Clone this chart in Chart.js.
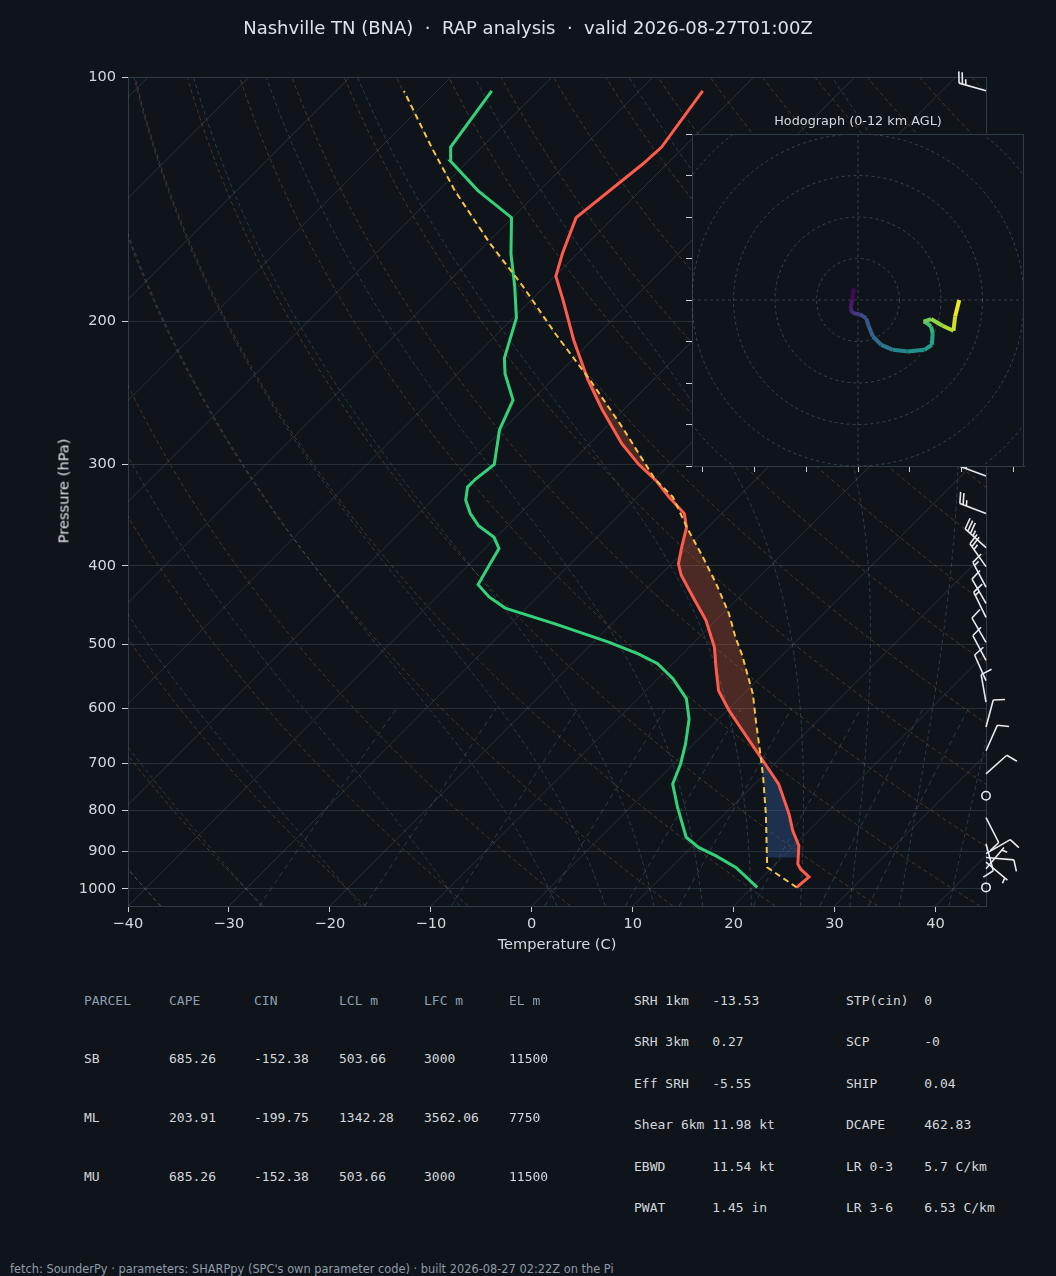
<!DOCTYPE html>
<html>
<head>
<meta charset="utf-8">
<script src="https://cdn.jsdelivr.net/npm/chart.js@4.4.1/dist/chart.umd.min.js"></script>
<style>
  html, body { margin: 0; padding: 0; background: #0f141a; }
  #page { position: relative; width: 1056px; height: 1276px; overflow: hidden; background: #0f141a; font-family: 'DejaVu Sans', sans-serif; }
  #skewt { position: absolute; left: 0; top: 0; }
  #hodo { position: absolute; left: 660px; top: 100px; }
  .lbl { position: absolute; white-space: pre; line-height: normal; }
  .mono { font-family: 'DejaVu Sans Mono', monospace; font-size: 13px; }
</style>
</head>
<body>
<div id="page">
  <canvas id="skewt" width="1056" height="960"></canvas>
  <canvas id="hodo" width="380" height="380"></canvas>
</div>
<script>
// sounding (hPa / degC)
const tempP = [996, 967, 946, 932, 885, 848, 809, 743, 689, 657, 603, 570, 533, 504, 467, 437, 411, 398, 380, 359, 345, 329, 314, 300, 283, 257, 236, 211, 188, 176, 165, 149, 128, 122, 104]
const tempC = [24.4, 24.6, 23.0, 22.2, 20.5, 18.4, 16.4, 12.4, 8.0, 5.2, 0.2, -2.8, -5.4, -7.5, -11.0, -14.6, -17.9, -19.3, -20.6, -22.1, -23.7, -26.9, -29.8, -33.1, -36.8, -42.1, -46.5, -51.8, -56.9, -59.9, -61.5, -63.7, -62.4, -62.2, -63.7]

const dwptP = [996, 941, 911, 890, 864, 794, 743, 702, 663, 618, 583, 551, 528, 514, 497, 472, 451, 437, 422, 400, 381, 369, 357, 345, 332, 320, 313, 300, 272, 250, 232, 222, 198, 181, 165, 149, 138, 127, 122, 104]
const dwptC = [20.5, 16.4, 13.3, 10.8, 8.5, 4.7, 1.9, 0.7, -0.8, -2.9, -5.2, -8.5, -11.5, -14.3, -18.4, -25.5, -32.1, -34.8, -37.1, -37.9, -38.6, -40.2, -42.9, -44.9, -46.7, -47.8, -47.8, -47.4, -50.3, -51.9, -55.3, -56.9, -59.7, -63.0, -66.6, -70.1, -76.1, -81.7, -83.1, -84.6]

const parcelP = [996, 941, 809, 729, 689, 626, 575, 528, 514, 490, 458, 421, 390, 360, 329, 313, 270, 236, 207, 181, 160, 138, 122, 104]
const parcelC = [24.4, 19.5, 14.1, 10.2, 8.0, 4.2, 0.9, -2.9, -4.1, -6.4, -9.4, -13.6, -17.6, -21.9, -26.5, -30.0, -38.4, -46.3, -54.3, -62.2, -69.8, -78.4, -85.0, -93.3]

const lfcP = 689
const cinBaseP = 915

// wind barbs (direction wind is from, deg / kt)
const barbP = [104, 310, 345, 380, 401, 425, 445, 463, 497, 523, 554, 589, 632, 676, 722, 768, 817, 880, 905, 915, 927, 945, 996]
const barbDir = [286, 290, 291, 312, 325, 332, 330, 334, 330, 332, 336, 350, 15, 24, 48, 0, 153, 165, 60, 95, 130, 40, 0]
const barbKt = [25, 25, 25, 35, 25, 15, 10, 15, 10, 10, 10, 10, 10, 10, 10, 0, 10, 10, 10, 10, 5, 5, 0]

// hodograph trace, 0-12 km
const hodoU = [-1.0, -1.4, -1.8, -1.2, 0.4, 2.0, 2.6, 3.6, 5.6, 8.4, 12.0, 16.0, 17.8, 18.0, 17.6, 16.4, 15.8, 17.6, 20.4, 23.0, 23.4, 24.4]
const hodoV = [2.8, 0.0, -2.2, -3.2, -3.4, -4.4, -6.4, -8.8, -10.8, -12.0, -12.4, -12.0, -10.8, -8.0, -6.4, -5.4, -5.2, -4.6, -6.2, -7.4, -4.0, 0.0]

const pressureTicks = [100, 200, 300, 400, 500, 600, 700, 800, 900, 1000]
const tempTicks = [-40, -30, -20, -10, 0, 10, 20, 30, 40]
const hodoXTicks = [-37.5, -25, -12.5, 0, 12.5, 25, 37.5]
const hodoYTicks = [-40, -30, -20, -10, 0, 10, 20, 30, 40]
const hodoRings = [10, 20, 30, 40, 50, 60]

// reference lines of the diagram
const dryAdiabatT0 = [-40, -30, -20, -10, 0, 10, 20, 30, 40, 50, 60, 70, 80, 90, 100, 110, 120, 130, 140, 150, 160, 170, 180, 190, 200, 210, 220, 230, 240]
const moistAdiabatT0 = [-40, -30, -20, -10, 0, 5, 10, 15, 20, 25, 30, 35, 40, 45]
const mixingRatios = [0.0004, 0.001, 0.002, 0.004, 0.007, 0.01, 0.016, 0.024, 0.032]

// tables
const tableHead = ['PARCEL', 'CAPE', 'CIN', 'LCL m', 'LFC m', 'EL m']
const parcelNames = ['SB', 'ML', 'MU']
const capeVals = ['685.26', '203.91', '685.26']
const cinVals = ['-152.38', '-199.75', '-152.38']
const lclVals = ['503.66', '1342.28', '503.66']
const lfcVals = ['3000', '3562.06', '3000']
const elVals = ['11500', '7750', '11500']
const statLabelsA = ['SRH 1km', 'SRH 3km', 'Eff SRH', 'Shear 6km', 'EBWD', 'PWAT']
const statValuesA = ['-13.53', '0.27', '-5.55', '11.98 kt', '11.54 kt', '1.45 in']
const statLabelsB = ['STP(cin)', 'SCP', 'SHIP', 'DCAPE', 'LR 0-3', 'LR 3-6']
const statValuesB = ['0', '-0', '0.04', '462.83', '5.7 C/km', '6.53 C/km']

const BG = '#0f141a'
const FRAME = '#2f3b49'
const GRID = 'rgba(120,140,160,0.24)'
const TICK = '#c9d0d8'
const TXT = '#d3d8de'
const FONT = "'DejaVu Sans', sans-serif"

const SKEW = 80.3 // degC shift per pressure decade -> 45 deg isotherms
const P_BOT = 1050
const P_TOP = 100
const skewX = (t, p) => t + SKEW * Math.log10(P_BOT / p)

/**
 * Log-p interpolation along a profile (pressures descending).
 */
function interpT (ps, ts, p) {
  for (let i = 0; i < ps.length - 1; i++) {
    if (p <= ps[i] && p >= ps[i + 1]) {
      const f = Math.log(ps[i] / p) / Math.log(ps[i] / ps[i + 1])
      return ts[i] + f * (ts[i + 1] - ts[i])
    }
  }
  return null
}

/**
 * Closed polygons where (parcel - temp) * sign > 0 between two levels.
 */
function shadeRegions (pBase, pTop, sign) {
  const levels = [...new Set([pBase, pTop, ...tempP, ...parcelP])]
    .filter(p => p <= pBase && p >= pTop)
    .sort((a, b) => b - a)
  const regions = []
  let cur = null
  let prev = null
  for (const p of levels) {
    const tp = interpT(parcelP, parcelC, p)
    const tt = interpT(tempP, tempC, p)
    if (tp === null || tt === null) continue
    const d = (tp - tt) * sign
    if (prev && (prev.d > 0) !== (d > 0)) {
      const f = prev.d / (prev.d - d)
      const pc = Math.exp(Math.log(prev.p) + f * (Math.log(p) - Math.log(prev.p)))
      const tc = prev.tp + f * (tp - prev.tp)
      if (cur) {
        cur.push({ p: pc, tp: tc, tt: tc })
        regions.push(cur)
        cur = null
      } else {
        cur = [{ p: pc, tp: tc, tt: tc }]
      }
    }
    if (d > 0) {
      if (!cur) cur = []
      cur.push({ p, tp, tt })
    }
    prev = { p, tp, tt, d }
  }
  if (cur) regions.push(cur)
  return regions.map(r => [
    ...r.map(o => ({ x: skewX(o.tp, o.p), y: o.p })),
    ...r.slice().reverse().map(o => ({ x: skewX(o.tt, o.p), y: o.p }))
  ])
}

const profile = (ps, ts) => ps.map((p, i) => ({ x: skewX(ts[i], p), y: p }))

function dryAdiabat (t0) {
  const pts = []
  for (let i = 0; i <= 60; i++) {
    const p = P_BOT * Math.pow(P_TOP / P_BOT, i / 60)
    pts.push([(t0 + 273.15) * Math.pow(p / 1000, 0.2857) - 273.15, p])
  }
  return pts
}

function moistAdiabat (t0) {
  const Rd = 287.04
  const Cp = 1005.7
  const Lv = 2.501e6
  const eps = 0.622
  const slope = (t, p) => {
    const es = 6.112 * Math.exp(17.67 * (t - 273.15) / (t - 29.65))
    const rs = eps * es / (p - es)
    return (Rd * t + Lv * rs) / (Cp + (Lv * Lv * rs * eps) / (Rd * t * t)) / p
  }
  const step = (t, p, dp) => {
    const k1 = slope(t, p)
    const k2 = slope(t + k1 * dp, p + dp)
    return t + 0.5 * (k1 + k2) * dp
  }
  const down = []
  let t = t0 + 273.15
  for (let p = 1000; p < P_BOT; p += 5) {
    t = step(t, p, 5)
    down.unshift([t - 273.15, p + 5])
  }
  const up = []
  t = t0 + 273.15
  for (let p = 1000; p > P_TOP; p -= 5) {
    up.push([t - 273.15, p])
    t = step(t, p, -5)
  }
  up.push([t - 273.15, P_TOP])
  return down.concat(up)
}

function mixingLine (w) {
  const pts = []
  for (let i = 0; i <= 20; i++) {
    const p = P_BOT * Math.pow(600 / P_BOT, i / 20)
    const e = w * p / (0.622 + w)
    const l = Math.log(e / 6.112)
    pts.push([243.5 * l / (17.67 - l), p])
  }
  return pts
}

const viridisStops = ['#440154', '#482475', '#414487', '#355f8d', '#2a788e', '#21918c', '#22a884', '#44bf70', '#7ad151', '#bddf26', '#fde725']
function viridis (f) {
  const x = Math.max(0, Math.min(1, f)) * (viridisStops.length - 1)
  const i = Math.min(Math.floor(x), viridisStops.length - 2)
  const a = viridisStops[i]
  const b = viridisStops[i + 1]
  const k = x - i
  const c = j => Math.round(parseInt(a.substr(j, 2), 16) * (1 - k) + parseInt(b.substr(j, 2), 16) * k)
  return `rgb(${c(1)},${c(3)},${c(5)})`
}

/**
 * Isotherms, adiabats, mixing lines and the box frame, under the data.
 */
const backgroundLines = {
  id: 'backgroundLines',
  beforeDatasetsDraw (chart) {
    const { ctx, chartArea: a, scales: { x, y } } = chart
    ctx.save()
    ctx.beginPath()
    ctx.rect(a.left, a.top, a.right - a.left, a.bottom - a.top)
    ctx.clip()
    const stroke = (pts, color, dash) => {
      ctx.beginPath()
      pts.forEach(([t, p], i) => {
        const px = x.getPixelForValue(skewX(t, p))
        const py = y.getPixelForValue(p)
        if (i === 0) ctx.moveTo(px, py)
        else ctx.lineTo(px, py)
      })
      ctx.strokeStyle = color
      ctx.lineWidth = 1
      ctx.setLineDash(dash)
      ctx.stroke()
    }
    for (let t = -160; t <= 40; t += 10) stroke([[t, P_BOT], [t, P_TOP]], GRID, [])
    dryAdiabatT0.forEach(t => stroke(dryAdiabat(t), 'rgba(190,130,80,0.32)', [4, 3]))
    moistAdiabatT0.forEach(t => stroke(moistAdiabat(t), 'rgba(110,150,185,0.3)', [4, 3]))
    mixingRatios.forEach(w => stroke(mixingLine(w), 'rgba(110,150,185,0.3)', [5, 4]))
    ctx.restore()

    ctx.save()
    ctx.strokeStyle = FRAME
    ctx.lineWidth = 1
    ctx.beginPath()
    ctx.moveTo(a.left, a.top + 0.5)
    ctx.lineTo(a.right + 0.5, a.top + 0.5)
    ctx.lineTo(a.right + 0.5, a.bottom)
    ctx.stroke()
    ctx.restore()
  }
}

function drawBarb (ctx, x0, y0, dir, kt) {
  const L = 28
  if (kt < 2.5) {
    ctx.beginPath()
    ctx.arc(x0, y0, 0.15 * L, 0, Math.PI * 2)
    ctx.stroke()
    return
  }
  const r = dir * Math.PI / 180
  const dx = Math.sin(r)
  const dy = -Math.cos(r)
  const px = -dy
  const py = dx
  const tx = x0 + dx * L
  const ty = y0 + dy * L
  const H = 0.4 * L
  const W = 0.25 * L
  const S = 0.125 * L
  ctx.beginPath()
  ctx.moveTo(x0, y0)
  ctx.lineTo(tx, ty)
  let rest = Math.round(kt / 5) * 5
  let off = 0
  while (rest >= 50) {
    const sx = tx - dx * off
    const sy = ty - dy * off
    ctx.moveTo(sx, sy)
    ctx.lineTo(sx + H * px - dx * W / 2, sy + H * py - dy * W / 2)
    ctx.lineTo(sx - dx * W, sy - dy * W)
    off += W + S
    rest -= 50
  }
  while (rest >= 10) {
    const sx = tx - dx * off
    const sy = ty - dy * off
    ctx.moveTo(sx, sy)
    ctx.lineTo(sx + H * px + dx * W / 2, sy + H * py + dy * W / 2)
    off += S
    rest -= 10
  }
  if (rest >= 5) {
    if (off === 0) off = S
    const sx = tx - dx * off
    const sy = ty - dy * off
    ctx.moveTo(sx, sy)
    ctx.lineTo(sx + H / 2 * px + dx * W / 4, sy + H / 2 * py + dy * W / 4)
  }
  ctx.stroke()
}

const windBarbs = {
  id: 'windBarbs',
  afterDatasetsDraw (chart) {
    const { ctx, chartArea: a, scales: { y } } = chart
    ctx.save()
    ctx.strokeStyle = '#e6e9ee'
    ctx.lineWidth = 1.6
    ctx.setLineDash([])
    barbP.forEach((p, i) => drawBarb(ctx, a.right, y.getPixelForValue(p), barbDir[i], barbKt[i]))
    ctx.restore()
  }
}

const capeSets = shadeRegions(lfcP, P_TOP, 1).map(poly => ({
  data: poly, fill: 'shape', backgroundColor: 'rgba(214,96,66,0.3)', borderWidth: 0, order: 5
}))
const cinSets = shadeRegions(cinBaseP, lfcP, -1).map(poly => ({
  data: poly, fill: 'shape', backgroundColor: 'rgba(60,110,190,0.32)', borderWidth: 0, order: 5
}))

const tickFont = { family: FONT, size: 14.6 }

new Chart(document.getElementById('skewt'), {
  type: 'line',
  data: {
    datasets: [
      ...capeSets,
      ...cinSets,
      { data: profile(tempP, tempC), borderColor: '#ff5b4b', borderWidth: 3, order: 2 },
      { data: profile(dwptP, dwptC), borderColor: '#33d17a', borderWidth: 3, order: 2 },
      { data: profile(parcelP, parcelC), borderColor: '#f4c445', borderWidth: 2, borderDash: [6, 4], order: 1 }
    ]
  },
  options: {
    responsive: false,
    animation: false,
    events: [],
    layout: { padding: { left: 0, right: 70, top: 77, bottom: 0 } },
    elements: { point: { radius: 0 }, line: { tension: 0, fill: false } },
    plugins: { legend: { display: false }, tooltip: { enabled: false } },
    scales: {
      x: {
        type: 'linear',
        min: -40,
        max: 45,
        afterBuildTicks: s => { s.ticks = tempTicks.map(v => ({ value: v })) },
        afterFit: s => { s.height = 54 },
        grid: { drawOnChartArea: false, drawTicks: true, tickLength: 6, tickColor: TICK },
        border: { color: FRAME },
        ticks: { color: TXT, font: tickFont, padding: 3, maxRotation: 0, autoSkip: false, callback: v => String(v).replace('-', '\u2212') }
      },
      y: {
        type: 'logarithmic',
        reverse: true,
        min: P_TOP,
        max: P_BOT,
        afterBuildTicks: s => { s.ticks = pressureTicks.map(v => ({ value: v })) },
        afterFit: s => { s.width = 128 },
        grid: { color: GRID, drawTicks: true, tickLength: 6, tickColor: TICK },
        border: { color: FRAME },
        ticks: { color: TXT, font: tickFont, padding: 6, autoSkip: false, callback: v => String(v) }
      }
    }
  },
  plugins: [backgroundLines, windBarbs]
})

const hodoPanel = {
  id: 'hodoPanel',
  beforeDraw (chart) {
    const { ctx, chartArea: a } = chart
    ctx.save()
    ctx.fillStyle = BG
    ctx.fillRect(a.left, a.top, a.right - a.left, a.bottom - a.top)
    ctx.restore()
  },
  beforeDatasetsDraw (chart) {
    const { ctx, chartArea: a, scales: { x, y } } = chart
    const cx = x.getPixelForValue(0)
    const cy = y.getPixelForValue(0)
    ctx.save()
    ctx.beginPath()
    ctx.rect(a.left, a.top, a.right - a.left, a.bottom - a.top)
    ctx.clip()
    ctx.strokeStyle = 'rgba(120,140,165,0.38)'
    ctx.lineWidth = 1
    ctx.setLineDash([3, 3])
    hodoRings.forEach(r => {
      ctx.beginPath()
      ctx.arc(cx, cy, x.getPixelForValue(r) - cx, 0, Math.PI * 2)
      ctx.stroke()
    })
    ctx.beginPath()
    ctx.moveTo(a.left, cy)
    ctx.lineTo(a.right, cy)
    ctx.moveTo(cx, a.top)
    ctx.lineTo(cx, a.bottom)
    ctx.stroke()
    ctx.restore()
    ctx.save()
    ctx.strokeStyle = FRAME
    ctx.lineWidth = 1
    ctx.beginPath()
    ctx.moveTo(a.left, a.top + 0.5)
    ctx.lineTo(a.right - 0.5, a.top + 0.5)
    ctx.lineTo(a.right - 0.5, a.bottom)
    ctx.stroke()
    ctx.restore()
  }
}

new Chart(document.getElementById('hodo'), {
  type: 'line',
  data: {
    datasets: [{
      data: hodoU.map((u, i) => ({ x: u, y: hodoV[i] })),
      borderWidth: 4,
      borderCapStyle: 'butt',
      segment: { borderColor: c => viridis((c.p0DataIndex + 0.5) / (hodoU.length - 1)) }
    }]
  },
  options: {
    responsive: false,
    animation: false,
    events: [],
    layout: { padding: { left: 0, right: 16, top: 34, bottom: 0 } },
    elements: { point: { radius: 0 }, line: { tension: 0, fill: false } },
    plugins: { legend: { display: false }, tooltip: { enabled: false } },
    scales: {
      x: {
        type: 'linear',
        min: -40,
        max: 40,
        afterBuildTicks: s => { s.ticks = hodoXTicks.map(v => ({ value: v })) },
        afterFit: s => { s.height = 14 },
        grid: { drawOnChartArea: false, drawTicks: true, tickLength: 6, tickColor: TICK },
        border: { color: FRAME },
        ticks: { display: false }
      },
      y: {
        type: 'linear',
        min: -40,
        max: 40,
        afterBuildTicks: s => { s.ticks = hodoYTicks.map(v => ({ value: v })) },
        afterFit: s => { s.width = 32 },
        grid: { drawOnChartArea: false, drawTicks: true, tickLength: 6, tickColor: TICK },
        border: { color: FRAME },
        ticks: { display: false }
      }
    }
  },
  plugins: [hodoPanel]
})

// text around the plots
const page = document.getElementById('page')
function addText (text, x, y, opts = {}) {
  const d = document.createElement('div')
  d.className = 'lbl ' + (opts.cls || '')
  d.textContent = text
  d.style.left = x + 'px'
  d.style.top = y + 'px'
  d.style.color = opts.color || TXT
  if (opts.size) d.style.fontSize = opts.size + 'px'
  d.style.transform = opts.center ? 'translate(-50%, -50%)' : 'translateY(-50%)'
  if (opts.rotate) d.style.transform = 'translate(-50%, -50%) rotate(-90deg)'
  page.appendChild(d)
}

addText('Nashville TN (BNA)  \u00b7  RAP analysis  \u00b7  valid 2026-08-27T01:00Z', 528, 27, { center: true, size: 18, color: '#dde2e8' })
addText('Temperature (C)', 557, 943, { center: true, size: 14.6 })
addText('Pressure (hPa)', 63, 491, { rotate: true, size: 14.6, color: '#e2e6eb' })
addText('Hodograph (0-12 km AGL)', 858, 120, { center: true, size: 12.8 })

const colX = [84, 169, 254, 339, 424, 509]
const rowY = [1058, 1117, 1176]
tableHead.forEach((h, j) => addText(h, colX[j], 1000, { cls: 'mono', color: '#8d9eb2' }))
parcelNames.forEach((name, i) => {
  const row = [name, capeVals[i], cinVals[i], lclVals[i], lfcVals[i], elVals[i]]
  row.forEach((v, j) => addText(v, colX[j], rowY[i], { cls: 'mono', color: '#d2d7dd' }))
})
const statY = [1000, 1041, 1083, 1124, 1166, 1207]
statLabelsA.forEach((l, i) => addText(l.padEnd(10) + statValuesA[i], 634, statY[i], { cls: 'mono', color: '#d2d7dd' }))
statLabelsB.forEach((l, i) => addText(l.padEnd(10) + statValuesB[i], 846, statY[i], { cls: 'mono', color: '#d2d7dd' }))

addText('fetch: SounderPy \u00b7 parameters: SHARPpy (SPC\'s own parameter code) \u00b7 built 2026-08-27 02:22Z on the Pi', 10, 1269, { size: 11.4, color: '#8e9bab' })
</script>
</body>
</html>
